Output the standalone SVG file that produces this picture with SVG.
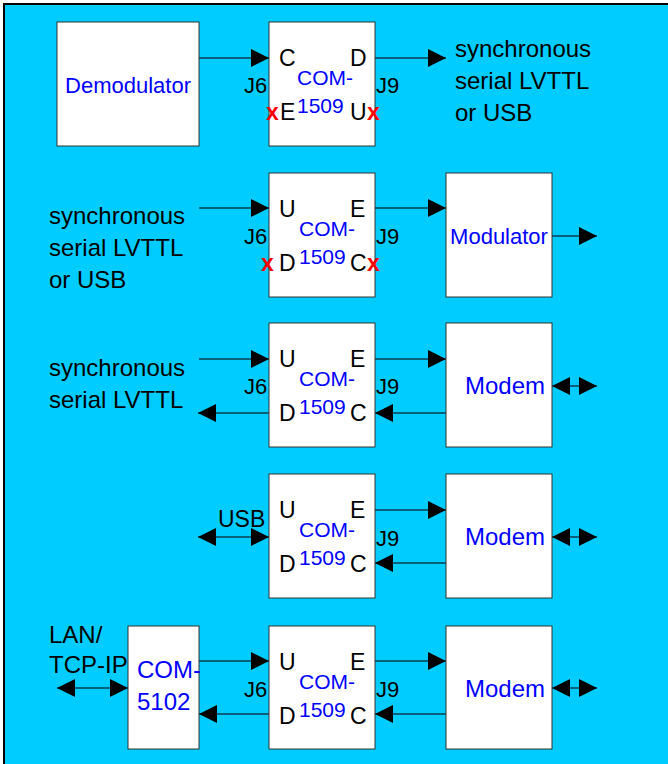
<svg xmlns="http://www.w3.org/2000/svg" width="668" height="764" viewBox="0 0 668 764">
<style>
.box{fill:#fff;stroke:#333;stroke-width:1}
.lbl{font-family:"Liberation Sans",Arial,sans-serif;fill:#000}
.blue{font-family:"Liberation Sans",Arial,sans-serif;fill:#0000ff}
.pin{font-family:"Liberation Sans",Arial,sans-serif;font-size:23px;fill:#000}
.jn{font-family:"Liberation Sans",Arial,sans-serif;font-size:22px;fill:#000}
.cm{font-family:"Liberation Sans",Arial,sans-serif;font-size:21px;fill:#0000ff}
.rx{font-family:"Liberation Sans",Arial,sans-serif;font-size:23px;font-weight:bold;fill:#ff0000}
.big{font-size:24px}
.mid{font-size:22px}
.wire{stroke:#0b3d4d;stroke-width:1.5;fill:none;marker-end:url(#ah)}
.dbl{stroke:#0b3d4d;stroke-width:1.5;fill:none;marker-end:url(#ah);marker-start:url(#ah)}
</style>
<defs>
<marker id="ah" markerUnits="userSpaceOnUse" markerWidth="18" markerHeight="18" refX="18" refY="9" orient="auto-start-reverse" viewBox="0 0 18 18">
<path d="M0,0 L18,9 L0,18 z" fill="#000"/>
</marker>
</defs>
<rect x="0" y="0" width="668" height="764" fill="#fff"/>
<rect x="4" y="4" width="700" height="800" fill="#00ccff" stroke="#000" stroke-width="2"/>

<g id="connectors">
<line class="wire" x1="199" y1="58" x2="269" y2="58"/>
<line class="wire" x1="375" y1="58" x2="446" y2="58"/>
<line class="wire" x1="199" y1="208" x2="269" y2="208"/>
<line class="wire" x1="375" y1="208" x2="446" y2="208"/>
<line class="wire" x1="552" y1="236" x2="597" y2="236"/>
<line class="wire" x1="199" y1="359" x2="269" y2="359"/>
<line class="wire" x1="375" y1="359" x2="446" y2="359"/>
<line class="wire" x1="269" y1="413" x2="198" y2="413"/>
<line class="wire" x1="446" y1="413" x2="375" y2="413"/>
<line class="dbl" x1="552" y1="386" x2="597" y2="386"/>
<line class="wire" x1="375" y1="510" x2="446" y2="510"/>
<line class="wire" x1="446" y1="563" x2="375" y2="563"/>
<line class="dbl" x1="198" y1="537" x2="269" y2="537"/>
<line class="dbl" x1="552" y1="537" x2="597" y2="537"/>
<line class="wire" x1="199" y1="661" x2="269" y2="661"/>
<line class="wire" x1="375" y1="661" x2="446" y2="661"/>
<line class="wire" x1="269" y1="714" x2="199" y2="714"/>
<line class="wire" x1="446" y1="714" x2="375" y2="714"/>
<line class="dbl" x1="57" y1="688" x2="128" y2="688"/>
<line class="dbl" x1="552" y1="688" x2="597" y2="688"/>
</g>

<g id="demodulator">
<rect class="box" x="57" y="22" width="142" height="124"/>
<text class="blue mid" x="128" y="93" text-anchor="middle">Demodulator</text>
</g>

<g id="com1509-1" transform="translate(0,22)">
<rect class="box" x="269" y="0" width="106" height="124"/>
<text class="pin" x="279" y="44">C</text>
<text class="pin" x="350" y="44">D</text>
<text class="cm" x="297" y="63">COM-</text>
<text class="cm" x="297" y="91">1509</text>
<text class="pin" x="280" y="98">E</text>
<text class="pin" x="350" y="98">U</text>
<text class="rx" x="266" y="98">x</text>
<text class="rx" x="367" y="98">x</text>
<text class="jn" x="244" y="71">J6</text>
<text class="jn" x="376" y="71">J9</text>
</g>

<g id="out-label-1">
<text class="lbl big" x="455" y="57">synchronous</text>
<text class="lbl big" x="455" y="89">serial LVTTL</text>
<text class="lbl big" x="455" y="121">or USB</text>
</g>

<g id="in-label-2">
<text class="lbl big" x="49" y="224">synchronous</text>
<text class="lbl big" x="49" y="256">serial LVTTL</text>
<text class="lbl big" x="49" y="288">or USB</text>
</g>

<g id="com1509-2" transform="translate(0,173)">
<rect class="box" x="269" y="0" width="106" height="124"/>
<text class="pin" x="279" y="44">U</text>
<text class="pin" x="350" y="44">E</text>
<text class="cm" x="299" y="63">COM-</text>
<text class="cm" x="299" y="91">1509</text>
<text class="pin" x="279" y="98">D</text>
<text class="pin" x="350" y="98">C</text>
<text class="rx" x="261" y="98">x</text>
<text class="rx" x="367" y="98">x</text>
<text class="jn" x="244" y="71">J6</text>
<text class="jn" x="376" y="71">J9</text>
</g>

<g id="modulator">
<rect class="box" x="446" y="173" width="106" height="124"/>
<text class="blue mid" x="499" y="244" text-anchor="middle">Modulator</text>
</g>

<g id="in-label-3">
<text class="lbl big" x="49" y="376">synchronous</text>
<text class="lbl big" x="49" y="408">serial LVTTL</text>
</g>

<g id="com1509-3" transform="translate(0,323)">
<rect class="box" x="269" y="0" width="106" height="124"/>
<text class="pin" x="279" y="44">U</text>
<text class="pin" x="350" y="44">E</text>
<text class="cm" x="299" y="63">COM-</text>
<text class="cm" x="299" y="91">1509</text>
<text class="pin" x="279" y="98">D</text>
<text class="pin" x="350" y="98">C</text>
<text class="jn" x="244" y="71">J6</text>
<text class="jn" x="376" y="71">J9</text>
</g>

<g id="modem-3">
<rect class="box" x="446" y="323" width="106" height="124"/>
<text class="blue big" x="505" y="394" text-anchor="middle">Modem</text>
</g>

<g id="usb-label">
<text class="lbl" font-size="23" x="218" y="527">USB</text>
</g>

<g id="com1509-4" transform="translate(0,474)">
<rect class="box" x="269" y="0" width="106" height="124"/>
<text class="pin" x="279" y="44">U</text>
<text class="pin" x="350" y="44">E</text>
<text class="cm" x="299" y="63">COM-</text>
<text class="cm" x="299" y="91">1509</text>
<text class="pin" x="279" y="98">D</text>
<text class="pin" x="350" y="98">C</text>
<text class="jn" x="376" y="72">J9</text>
</g>

<g id="modem-4">
<rect class="box" x="446" y="474" width="106" height="124"/>
<text class="blue big" x="505" y="545" text-anchor="middle">Modem</text>
</g>

<g id="lan-label">
<text class="lbl big" x="49" y="643">LAN/</text>
<text class="lbl big" x="49" y="673">TCP-IP</text>
</g>

<g id="com5102">
<rect class="box" x="128" y="626" width="71" height="123"/>
<text class="blue big" x="137" y="678">COM-</text>
<text class="blue big" x="137" y="710">5102</text>
</g>

<g id="com1509-5" transform="translate(0,626)">
<rect class="box" x="269" y="0" width="106" height="123"/>
<text class="pin" x="279" y="44">U</text>
<text class="pin" x="350" y="44">E</text>
<text class="cm" x="299" y="63">COM-</text>
<text class="cm" x="299" y="91">1509</text>
<text class="pin" x="279" y="98">D</text>
<text class="pin" x="350" y="98">C</text>
<text class="jn" x="244" y="71">J6</text>
<text class="jn" x="376" y="71">J9</text>
</g>

<g id="modem-5">
<rect class="box" x="446" y="626" width="106" height="123"/>
<text class="blue big" x="505" y="697" text-anchor="middle">Modem</text>
</g>
</svg>
